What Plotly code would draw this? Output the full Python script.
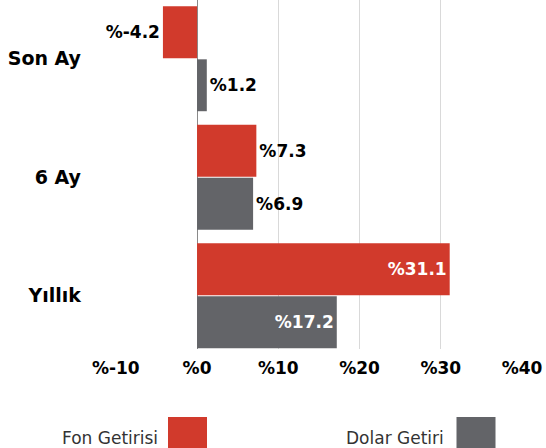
import plotly.graph_objects as go

categories = ["Son Ay", "6 Ay", "Yıllık"]
fon_values = [-4.2, 7.3, 31.1]
dolar_values = [1.2, 6.9, 17.2]
fon_positions = ["outside", "outside", "inside"]
dolar_positions = ["outside", "outside", "inside"]
series_names = ["Fon Getirisi", "Dolar Getiri"]
tick_vals = [-10, 0, 10, 20, 30, 40]
tick_text = ["%-10", "%0", "%10", "%20", "%30", "%40"]

RED = "#D13A2C"
GRAY = "#636468"
FONT = "DejaVu Sans"

W, H = 546, 448
L, R, T, B = 115, 24, 0, 99
pw, ph = W - L - R, H - T - B


def px_x(x):
    return (x - L) / pw


def px_y(y):
    return (H - B - y) / ph


def fmt(v):
    return "%" + ("%.1f" % v)


fig = go.Figure()
for name, vals, pos, color in [
    (series_names[0], fon_values, fon_positions, RED),
    (series_names[1], dolar_values, dolar_positions, GRAY),
]:
    fig.add_trace(go.Bar(
        y=categories, x=vals, orientation="h", name=name,
        marker=dict(color=color, line=dict(width=0)),
        text=[fmt(v) for v in vals], textposition=pos,
        insidetextanchor="end",
        insidetextfont=dict(color="white", size=17, family=FONT, weight="bold"),
        outsidetextfont=dict(color="black", size=17, family=FONT, weight="bold"),
        textfont=dict(family=FONT, size=17, weight="bold"),
        cliponaxis=False, showlegend=False, hoverinfo="skip",
    ))

fig.update_layout(
    width=W, height=H,
    margin=dict(l=L, r=R, t=T, b=B, autoexpand=False),
    paper_bgcolor="white", plot_bgcolor="white",
    barmode="group", bargap=0.106, bargroupgap=0.02,
    uniformtext=dict(minsize=17, mode="show"),
    font=dict(family=FONT, color="black"),
    xaxis=dict(
        range=[-10.1, 40], tickvals=tick_vals, ticktext=tick_text,
        showgrid=True, gridcolor="#D9D9D9", gridwidth=1,
        zeroline=True, zerolinecolor="#8A8A8A", zerolinewidth=1,
        tickfont=dict(size=17, family=FONT, color="black", weight="bold"),
        ticks="", ticklabelstandoff=7, showline=False, fixedrange=True, automargin=False,
    ),
    yaxis=dict(
        range=[2.449, -0.496], showgrid=False, zeroline=False,
        tickfont=dict(size=19, family=FONT, color="black", weight="bold"),
        ticks="", ticklabelstandoff=33, fixedrange=True, automargin=False,
    ),
)

# custom legend (text left of swatch)
legend_items = [(series_names[0], RED, 159.5, 168), (series_names[1], GRAY, 445.5, 456.5)]
for name, color, text_right, sq_left in legend_items:
    fig.add_annotation(
        x=px_x(text_right), y=px_y(438), xref="paper", yref="paper",
        text=name, showarrow=False, xanchor="right", yanchor="middle",
        font=dict(size=17, family=FONT, color="#333333"),
    )
    fig.add_shape(
        type="rect", xref="paper", yref="paper",
        x0=px_x(sq_left), x1=px_x(sq_left + 39),
        y0=px_y(417), y1=px_y(455),
        fillcolor=color, line=dict(width=0),
    )

fig.write_html(
    "out.html",
    config={"displayModeBar": False},
    post_script="document.body.style.margin='0';document.body.style.overflow='hidden';",
)
